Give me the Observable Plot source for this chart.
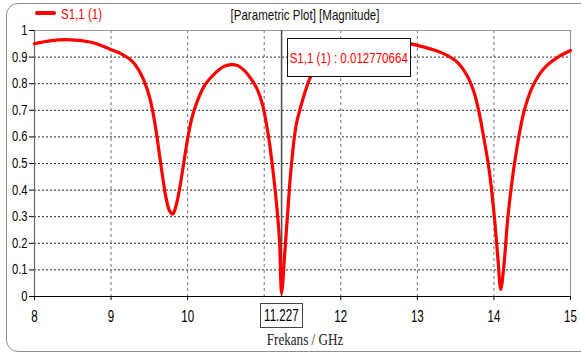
<!DOCTYPE html>
<html>
<head>
<meta charset="utf-8">
<script src="https://cdn.jsdelivr.net/npm/d3@7"></script>
<script src="https://cdn.jsdelivr.net/npm/@observablehq/plot@0.6"></script>
<style>
  html, body { margin: 0; padding: 0; background: #fff; }
  #wrap { position: relative; width: 581px; height: 359px; overflow: hidden; background: #fff; }
  #frame { position: absolute; left: 6px; top: 3px; width: 620px; height: 349px; border: 1.5px solid #8f8f8f; border-radius: 12px; box-sizing: border-box; }
  #wrap svg { position: absolute; left: 0; top: 0; }
  .sans { font-family: "Liberation Sans", Arial, sans-serif; }
  .ov { position: absolute; white-space: nowrap; line-height: 1; }
  .sq { display: inline-block; transform: scaleX(0.77); }
  #title { font-size: 15px; color: #111; transform: translateX(-50%); }
  #title .sq { transform-origin: center; }
  #legend { font-size: 15px; color: #ff0000; }
  #legend .sq { transform-origin: left center; }
  #legline { position: absolute; height: 4px; background: #ff0000; border-radius: 2px; }
  #anno { font-size: 15px; color: #ff0000; background: #fff; border: 1.8px solid #111; box-sizing: border-box; display: flex; align-items: center; justify-content: center; }
  #anno .sq { transform-origin: center; }
  #tickbox { font-size: 17px; color: #000; background: #fff; border: 1.2px solid #444; box-sizing: border-box; display: flex; align-items: center; justify-content: center; }
  #tickbox .sq { transform: scaleX(0.68); transform-origin: center; }
  #xlabel { font-family: "Liberation Serif", "DejaVu Serif", serif; font-size: 16px; color: #222; transform: translateX(-50%) scaleX(0.82); transform-origin: center; }
</style>
</head>
<body>
<div id="wrap"><div id="frame"></div></div>
<script>
// ---- data ----
const freq = [8.0, 8.22, 8.48, 8.74, 8.87, 9.0, 9.134, 9.265, 9.352, 9.439, 9.503, 9.547, 9.591, 9.634, 9.678, 9.721, 9.764, 9.808, 9.829, 9.873, 9.916, 9.96, 10.003, 10.047, 10.09, 10.155, 10.22, 10.307, 10.394, 10.481, 10.568, 10.655, 10.742, 10.829, 10.916, 10.981, 11.025, 11.068, 11.112, 11.155, 11.199, 11.227, 11.27, 11.307, 11.35, 11.416, 11.481, 11.546, 11.611, 11.75, 11.9, 12.1, 12.35, 12.65, 12.915, 13.0, 13.17, 13.35, 13.52, 13.65, 13.74, 13.806, 13.87, 13.936, 14.0, 14.053, 14.089, 14.13, 14.18, 14.24, 14.305, 14.39, 14.5, 14.65, 14.83, 15.0];
const s11 = [0.950, 0.962, 0.965, 0.956, 0.944, 0.928, 0.912, 0.887, 0.856, 0.805, 0.749, 0.692, 0.617, 0.529, 0.441, 0.366, 0.322, 0.310, 0.322, 0.372, 0.441, 0.523, 0.598, 0.661, 0.705, 0.755, 0.793, 0.824, 0.849, 0.866, 0.872, 0.868, 0.849, 0.818, 0.774, 0.718, 0.655, 0.579, 0.479, 0.366, 0.215, 0.012770664, 0.170, 0.316, 0.479, 0.642, 0.718, 0.780, 0.830, 0.895, 0.930, 0.952, 0.962, 0.958, 0.950, 0.944, 0.931, 0.912, 0.881, 0.830, 0.768, 0.692, 0.592, 0.479, 0.316, 0.140, 0.027, 0.115, 0.291, 0.441, 0.567, 0.692, 0.786, 0.856, 0.899, 0.925];
const xTickLabels = [8, 9, 10, 12, 13, 14, 15];
const xGrid = [9, 10, 11, 12, 13, 14];
const yTickLabels = [0, 0.1, 0.2, 0.3, 0.4, 0.5, 0.6, 0.7, 0.8, 0.9, 1];
const yGrid = [0.1, 0.2, 0.3, 0.4, 0.5, 0.6, 0.7, 0.8, 0.9];
const markerFreq = 11.227;
const markerValue = 0.012770664;
const seriesName = "S1,1 (1)";
const titleText = "[Parametric Plot] [Magnitude]";
const xLabelText = "Frekans / GHz";

const data = freq.map((f, i) => ({f, v: s11[i]}));
const sansFont = '"Liberation Sans", Arial, sans-serif';

const chart = Plot.plot({
  width: 581,
  height: 359,
  marginLeft: 34,
  marginRight: 11,
  marginTop: 30,
  marginBottom: 63,
  style: {background: "transparent", overflow: "visible"},
  x: {domain: [8, 15]},
  y: {domain: [0, 1]},
  marks: [
    Plot.gridY(yGrid, {stroke: "#000", strokeOpacity: 0.85, strokeDasharray: "2,2", strokeWidth: 1}),
    Plot.gridX(xGrid, {stroke: "#777", strokeOpacity: 1, strokeDasharray: "3,3", strokeWidth: 1}),
    Plot.ruleY([1], {stroke: "#999", strokeWidth: 1.2}),
    Plot.ruleX([15], {stroke: "#999", strokeWidth: 1.2}),
    Plot.ruleX([8], {stroke: "#666", strokeWidth: 1.2}),
    Plot.ruleY([0], {stroke: "#000", strokeWidth: 1.2}),
    Plot.axisY(yTickLabels, {tickSize: 5, tickPadding: 2, fontSize: 14, fontFamily: sansFont, fill: "#000", tickFormat: d => String(d), label: null}),
    Plot.axisX(xTickLabels, {tickSize: 4, tickPadding: 9, fontSize: 17, fontFamily: sansFont, fill: "#000", label: null, tickFormat: d => String(d)}),
    Plot.ruleX([markerFreq], {stroke: "#555", strokeWidth: 1.6}),
    Plot.line(data, {x: "f", y: "v", stroke: "#ff0000", strokeWidth: 3.2, curve: "catmull-rom"})
  ]
});

// squeeze axis tick labels horizontally (narrow look of the original)
function squeeze(sel, k) {
  chart.querySelectorAll(sel).forEach(t => {
    const tr = t.getAttribute("transform");
    if (tr) {
      t.setAttribute("transform", tr + ` scale(${k},1)`);
    } else {
      const x = +t.getAttribute("x") || 0, y = +t.getAttribute("y") || 0;
      t.setAttribute("x", 0); t.setAttribute("y", 0);
      t.setAttribute("transform", `translate(${x},${y}) scale(${k},1)`);
    }
  });
}
squeeze('g[aria-label="y-axis tick label"] text', 0.8);
squeeze('g[aria-label="x-axis tick label"] text', 0.68);

const wrap = document.getElementById("wrap");
wrap.appendChild(chart);
const sx = chart.scale("x");
const sy = chart.scale("y");
const mx = sx.apply(markerFreq);
const yTop = sy.apply(1);
const yBot = sy.apply(0);

function add(id, cls, text, css, squeezeIt) {
  const d = document.createElement("div");
  d.id = id;
  d.className = cls;
  if (text != null) {
    if (squeezeIt) {
      const s = document.createElement("span");
      s.className = "sq";
      s.textContent = text;
      d.appendChild(s);
    } else d.textContent = text;
  }
  Object.assign(d.style, css);
  wrap.appendChild(d);
  return d;
}

const cx = (sx.apply(8) + sx.apply(15)) / 2 + 3;
add("title", "ov sans", titleText, {left: cx + "px", top: "7px"}, true);
add("legline", "", null, {left: "35px", top: "11px", width: "21px"});
add("legend", "ov sans", seriesName, {left: "61px", top: "6px"}, true);
add("anno", "ov sans", `${seriesName} : ${markerValue}`, {left: mx + 6 + "px", top: yTop + 8 + "px", width: "124px", height: "39px"}, true);
add("tickbox", "ov sans", String(markerFreq), {left: mx - 21.5 + "px", top: yBot + 7 + "px", width: "43px", height: "25px"}, true);
add("xlabel", "ov", xLabelText, {left: cx + "px", top: yBot + 36 + "px"});
</script>
</body>
</html>
